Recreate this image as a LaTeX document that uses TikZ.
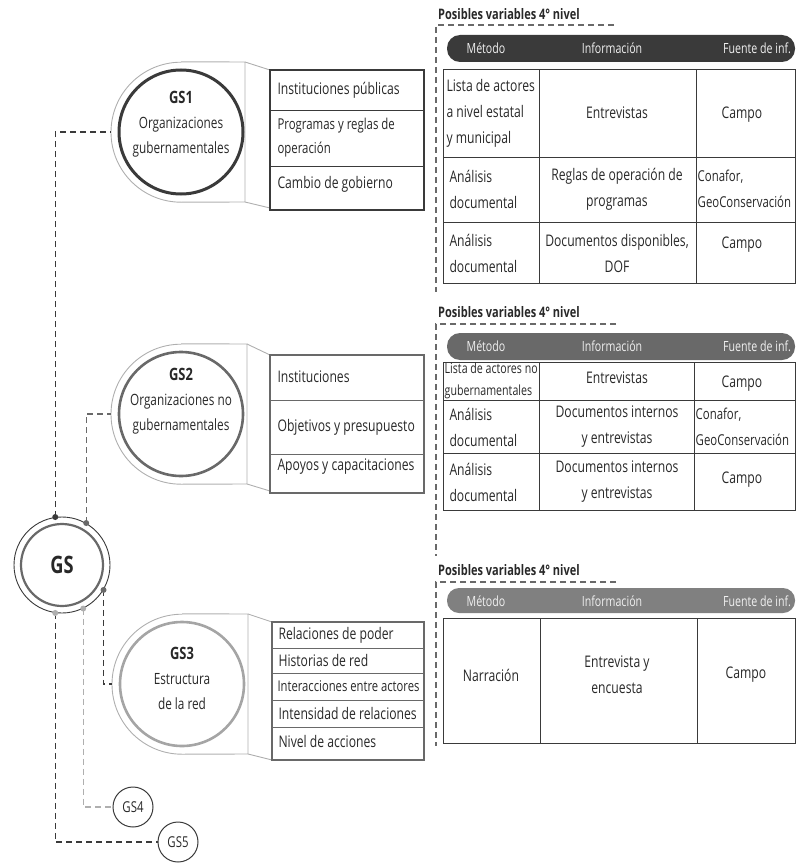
\documentclass[tikz,border=0pt]{standalone}
\usepackage{fontspec}
\setmainfont{Open Sans}[FakeStretch=0.76]
\usetikzlibrary{positioning}
\definecolor{gsdark}{RGB}{58, 58, 58}
\definecolor{gsmid}{RGB}{105, 105, 105}
\definecolor{gslight}{RGB}{175, 175, 175}
\definecolor{gstext}{RGB}{40, 40, 40}
\newcommand{\circfont}{\fontsize{15.5}{25}\selectfont}
\newcommand{\cellfont}{\fontsize{16}{26}\selectfont}
\newcommand{\hdrfont}{\fontsize{14}{16}\selectfont}
\tikzset{
  gsnode/.style={circle, draw, line width=2.6pt, minimum size=124pt, inner sep=0pt},
  circtext/.style={align=center, font=\circfont, text=gstext, inner sep=0pt},
  smallgs/.style={circle, draw=gsdark, line width=1pt, minimum size=40pt, inner sep=0pt,
    font=\fontsize{15}{15}\selectfont, text=gstext},
  tabout/.style={circle, minimum size=140pt, inner sep=0pt},
  tabline/.style={draw=gslight, line width=0.9pt},
  listbox/.style={draw=gsdark, line width=2.4pt},
  rowline/.style={draw=gsdark, line width=1pt},
  listtext/.style={anchor=west, align=left, font=\cellfont, text=gstext},
  cell/.style={align=center, font=\cellfont, text=gstext},
  lcell/.style={anchor=west, align=left, font=\cellfont, text=gstext},
  hdr/.style={font=\hdrfont, text=white!88!gray},
  varlabel/.style={anchor=south west, font=\bfseries\fontsize{14.5}{15}\selectfont, text=gstext, inner sep=1pt},
  conn/.style={dash pattern=on 6pt off 4pt, line width=1.3pt},
  gsdot/.style={circle, fill, inner sep=0pt, minimum size=6pt}
}
\begin{document}
\begin{tikzpicture}[x=1pt,y=-1pt]
\useasboundingbox (0,0) rectangle (796,864);

% nodo principal
\node[circle, draw=gsdark, line width=0.9pt, minimum size=96pt, inner sep=0pt] (GS) at (62,565) {};
\draw[gsmid, line width=2.2pt] (GS.center) circle (41pt);
\node[font=\bfseries\fontsize{24}{24}\selectfont, text=gstext] (gslabel) at (GS.center) {GS};

% GS1
\node[tabout] (gs1out) at (181,132) {};
\draw[tabline] (gs1out.north) -- (245,62) -- (245,202) -- (gs1out.south) arc[start angle=270, end angle=90, radius=70pt];
\draw[tabline] (245,62) -- (270,70) (245,202) -- (270,208);
\node[gsnode, draw=gsdark, line width=3pt] (gs1) at (181,132) {};
\node[circtext] (gs1t) at (181,124) {{\bfseries\fontsize{17}{20}\selectfont GS1}\\Organizaciones\\gubernamentales};
\draw[listbox] (270,70) rectangle (424,210);
\draw[rowline] (270,111) -- (424,111) (270,166) -- (424,166);
\node[listtext] (gs1a) at (274,90) {Instituciones públicas};
\node[listtext, font=\fontsize{15}{24}\selectfont] (gs1b) at (274,138) {Programas y reglas de\\operación};
\node[listtext] (gs1c) at (274,184) {Cambio de gobierno};

% GS2
\node[tabout] (gs2out) at (181,414) {};
\draw[tabline] (gs2out.north) -- (247,344) -- (247,484) -- (gs2out.south) arc[start angle=270, end angle=90, radius=70pt];
\draw[tabline] (247,344) -- (270,355) (247,484) -- (270,491);
\node[gsnode, draw=gsmid] (gs2) at (181,414) {};
\node[circtext] (gs2t) at (181,401) {{\bfseries\fontsize{17}{20}\selectfont GS2}\\Organizaciones no\\gubernamentales};
\draw[listbox, draw=gsmid] (270,355) rectangle (424,493);
\draw[rowline, draw=gsmid] (270,400) -- (424,400) (270,454) -- (424,454);
\node[listtext] (gs2a) at (274,377) {Instituciones};
\node[listtext] (gs2b) at (274,427) {Objetivos y presupuesto};
\node[listtext] (gs2c) at (274,467) {Apoyos y capacitaciones};

% GS3
\node[tabout] (gs3out) at (182,684) {};
\draw[tabline] (gs3out.north) -- (248,614) -- (248,754) -- (gs3out.south) arc[start angle=270, end angle=90, radius=70pt];
\draw[tabline] (248,614) -- (272,622) (248,754) -- (272,760);
\node[gsnode, draw=gslight!80!gray] (gs3) at (182,684) {};
\node[circtext] (gs3t) at (182,678) {{\bfseries\fontsize{17}{20}\selectfont GS3}\\Estructura\\de la red};
\draw[listbox, draw=gsmid] (272,622) rectangle (424,760);
\foreach \yy in {648,673,700,727}
  \draw[rowline, draw=gsmid] (272,\yy) -- (424,\yy);
\node[listtext] (gs3a) at (275,635) {Relaciones de poder};
\node[listtext] (gs3b) at (275,660) {Historias de red};
\node[listtext, font=\fontsize{14.8}{20}\selectfont] (gs3c) at (274,686) {Interacciones entre actores};
\node[listtext] (gs3d) at (275,713) {Intensidad de relaciones};
\node[listtext] (gs3e) at (275,741) {Nivel de acciones};

% GS4 y GS5
\node[smallgs] (gs4) at (133,807) {GS4};
\node[smallgs] (gs5) at (178,842) {GS5};

% conectores
\draw[conn, gsdark] (GS.98) |- (gs1out.west);
\draw[conn, gsmid] (GS.60) |- (gs2out.west);
\draw[conn, gsdark] (GS.-31) |- (gs3out.west);
\draw[conn, gslight] (GS.-64) |- (gs4.west);
\draw[conn, gsdark] (GS.-98) |- (gs5.west);
\node[gsdot, gsdark] (d1) at (GS.98) {};
\node[gsdot, gsmid] (d2) at (GS.60) {};
\node[gsdot, gsmid] (d3) at (GS.-31) {};
\node[gsdot, gslight] (d4) at (GS.-64) {};
\node[gsdot, gslight] (d5) at (GS.-98) {};

% tabla 1
\node[varlabel] (v1) at (437,21) {Posibles variables 4° nivel};
\draw[conn, gsmid, line width=1.1pt] (614,25) -- (436,25) -- (436,292);
\fill[gsdark, rounded corners=13pt] (447,35) rectangle (795,62);
\node[hdr] (h1a) at (486,48) {Método};
\node[hdr] (h1b) at (612,48) {Información};
\node[hdr] (h1c) at (757,48) {Fuente de inf.};
\draw[rowline] (443,70) rectangle (795,283);
\draw[rowline] (443,157) -- (795,157) (443,222) -- (795,222) (539,70) -- (539,283) (696,70) -- (696,283);
\node[lcell] (t1a) at (443,113) {Lista de actores\\a nivel estatal\\y municipal};
\node[cell] (t1b) at (617,113) {Entrevistas};
\node[cell] (t1c) at (742,115) {Campo};
\node[lcell] (t1d) at (446,189) {Análisis\\documental};
\node[cell] (t1e) at (617,189) {Reglas de operación de\\programas};
\node[lcell, font=\fontsize{15}{26}\selectfont, inner sep=1.5pt] (t1f) at (696,189) {Conafor,\\GeoConservación};
\node[lcell] (t1g) at (446,253) {Análisis\\documental};
\node[cell] (t1h) at (617,253) {Documentos disponibles,\\DOF};
\node[cell] (t1i) at (742,245) {Campo};

% tabla 2
\node[varlabel] (v2) at (437,319) {Posibles variables 4° nivel};
\draw[conn, gsmid, line width=1.1pt] (616,324) -- (436,324) -- (436,556);
\fill[gsmid, rounded corners=13pt] (447,333) rectangle (795,360);
\node[hdr] (h2a) at (486,346) {Método};
\node[hdr] (h2b) at (612,346) {Información};
\node[hdr] (h2c) at (757,346) {Fuente de inf.};
\draw[rowline] (443,362) rectangle (795,510);
\draw[rowline] (443,400) -- (795,400) (443,453) -- (795,453) (539,362) -- (539,510) (694,362) -- (694,510);
\node[lcell, font=\fontsize{14}{22}\selectfont, inner sep=1.5pt] (t2a) at (443,381) {Lista de actores no\\gubernamentales};
\node[cell] (t2b) at (617,378) {Entrevistas};
\node[cell] (t2c) at (742,384) {Campo};
\node[lcell] (t2d) at (446,427) {Análisis\\documental};
\node[cell] (t2e) at (617,427) {Documentos internos\\y entrevistas};
\node[lcell, font=\fontsize{15}{26}\selectfont, inner sep=1.5pt] (t2f) at (694,427) {Conafor,\\GeoConservación};
\node[lcell] (t2g) at (446,482) {Análisis\\documental};
\node[cell] (t2h) at (617,482) {Documentos internos\\y entrevistas};
\node[cell] (t2i) at (742,480) {Campo};

% tabla 3
\node[varlabel] (v3) at (437,577) {Posibles variables 4° nivel};
\draw[conn, gsmid, line width=1.1pt] (616,582) -- (436,582) -- (436,746);
\fill[gsmid!85!white, rounded corners=12pt] (447,588) rectangle (795,613);
\node[hdr] (h3a) at (486,601) {Método};
\node[hdr] (h3b) at (612,601) {Información};
\node[hdr] (h3c) at (757,601) {Fuente de inf.};
\draw[rowline] (443,618) rectangle (795,743);
\draw[rowline] (540,618) -- (540,743) (697,618) -- (697,743);
\node[cell] (t3a) at (491,675) {Narración};
\node[cell] (t3b) at (617,675) {Entrevista y\\encuesta};
\node[cell] (t3c) at (746,675) {Campo};
\end{tikzpicture}
\end{document}
